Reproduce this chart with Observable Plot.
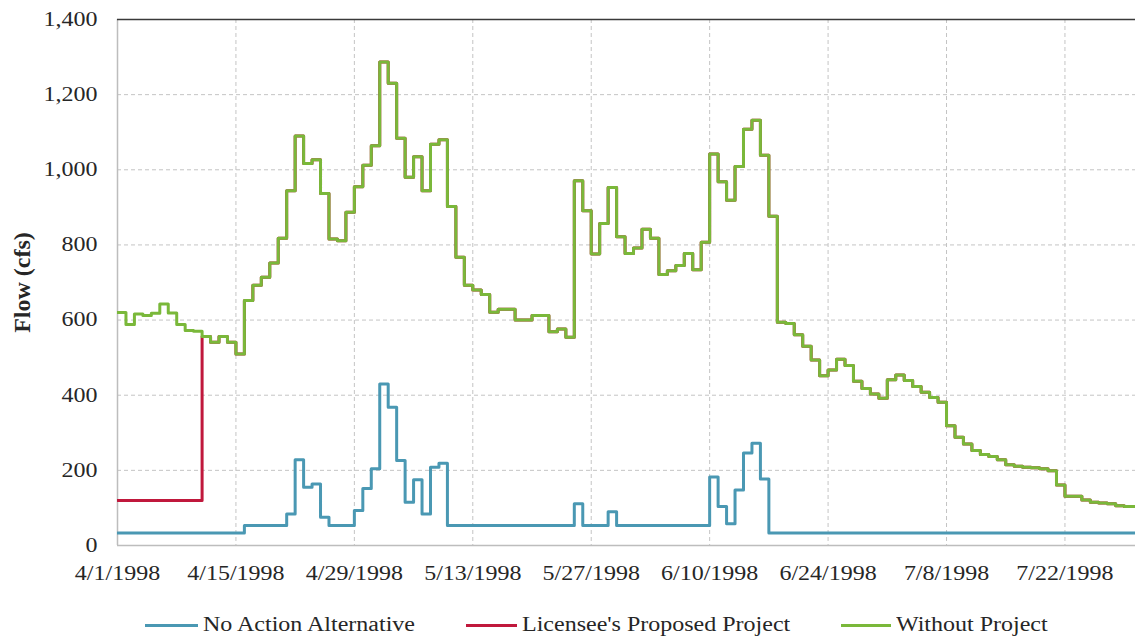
<!DOCTYPE html>
<html>
<head>
<meta charset="utf-8">
<script src="https://cdn.jsdelivr.net/npm/d3@7"></script>
<script src="https://cdn.jsdelivr.net/npm/@observablehq/plot@0.6"></script>
<style>
  html, body { margin: 0; padding: 0; background: #fff; }
  #wrap { position: relative; width: 1135px; height: 636px; overflow: hidden; font-family: "Liberation Serif", "Times New Roman", Times, "DejaVu Serif", serif; color: #262626; }
  .sw { position: absolute; height: 3px; top: 624px; }
  .lt { position: absolute; top: 612px; font-size: 20px; line-height: 24px; white-space: nowrap; transform: scaleX(1.2); transform-origin: left center; }
</style>
</head>
<body>
<div id="wrap"></div>
<script>
// ---- data (daily values starting 4/1/1998) ----
const startDate = "1998-04-01";
const seriesNames = ["No Action Alternative", "Licensee's Proposed Project", "Without Project"];
const seriesColors = ["#4a98b3", "#c0183c", "#7ab83a"];
const xTickLabels = ["4/1/1998", "4/15/1998", "4/29/1998", "5/13/1998", "5/27/1998", "6/10/1998", "6/24/1998", "7/8/1998", "7/22/1998"];
const yTicks = [0, 200, 400, 600, 800, 1000, 1200, 1400];

const noAction = [
  33, 33, 33, 33, 33, 33, 33, 33, 33, 33,
  33, 33, 33, 33, 33, 53, 53, 53, 53, 53,
  84, 228, 155, 164, 75, 53, 53, 53, 93, 152,
  204, 430, 368, 226, 115, 175, 84, 208, 219, 53,
  53, 53, 53, 53, 53, 53, 53, 53, 53, 53,
  53, 53, 53, 53, 111, 53, 53, 53, 90, 53,
  53, 53, 53, 53, 53, 53, 53, 53, 53, 53,
  182, 104, 58, 148, 246, 272, 177, 33, 33, 33,
  33, 33, 33, 33, 33, 33, 33, 33, 33, 33,
  33, 33, 33, 33, 33, 33, 33, 33, 33, 33,
  33, 33, 33, 33, 33, 33, 33, 33, 33, 33,
  33, 33, 33, 33, 33, 33, 33, 33, 33, 33,
  33, 33
];

const withoutProject = [
  620, 588, 616, 612, 618, 643, 619, 588, 572, 570,
  556, 541, 556, 541, 510, 652, 693, 714, 752, 818,
  944, 1090, 1017, 1027, 937, 816, 811, 887, 955, 1012,
  1064, 1287, 1230, 1084, 980, 1035, 944, 1068, 1080, 902,
  767, 693, 680, 668, 621, 629, 629, 600, 600, 612,
  612, 569, 576, 554, 971, 891, 776, 857, 953, 822,
  777, 792, 842, 818, 721, 731, 745, 777, 734, 807,
  1042, 968, 919, 1009, 1108, 1132, 1039, 876, 594, 591,
  561, 530, 494, 452, 467, 496, 479, 437, 418, 403,
  392, 441, 454, 439, 423, 408, 394, 381, 319, 288,
  270, 253, 242, 237, 228, 215, 211, 208, 207, 204,
  199, 161, 131, 131, 121, 115, 113, 111, 106, 104,
  104, 104
];

// Licensee's project: 120 cfs until 4/11, then identical to Without Project (hidden beneath it)
const licenseeEarly = [120, 120, 120, 120, 120, 120, 120, 120, 120, 120];
const licensee = licenseeEarly.concat(withoutProject.slice(licenseeEarly.length));

// ---- build table ----
const DAY = 864e5;
const t0 = Date.parse(startDate + "T00:00:00Z");
const rows = [];
[noAction, licensee, withoutProject].forEach((arr, s) => {
  arr.forEach((v, i) => rows.push({series: seriesNames[s], date: new Date(t0 + i * DAY), value: v}));
});
const parseMDY = s => { const [m, d, y] = s.split("/").map(Number); return new Date(Date.UTC(y, m - 1, d)); };
const tickDates = xTickLabels.map(parseMDY);
const fmt = d => `${d.getUTCMonth() + 1}/${d.getUTCDate()}/${d.getUTCFullYear()}`;
const xDomain = [new Date(t0), new Date(t0 + 120.34 * DAY)];
const FONT = '"Liberation Serif", "Times New Roman", Times, "DejaVu Serif", serif';

const chart = Plot.plot({
  width: 1135,
  height: 600,
  marginLeft: 117,
  marginRight: 0,
  marginTop: 19,
  marginBottom: 55,
  style: {fontFamily: FONT, fontSize: "20px", color: "#262626", background: "white", overflow: "hidden"},
  x: {type: "utc", domain: xDomain},
  y: {domain: [0, 1400]},
  marks: [
    Plot.gridX(tickDates.slice(1), {stroke: "#c4c4c4", strokeOpacity: 1, strokeDasharray: "4,3", strokeWidth: 1}),
    Plot.gridY(yTicks.slice(1, -1), {stroke: "#c4c4c4", strokeOpacity: 1, strokeDasharray: "4,3", strokeWidth: 1}),
    Plot.ruleX([xDomain[0]], {stroke: "#bdbdbd", strokeWidth: 1.5}),
    Plot.ruleY([0], {stroke: "#bdbdbd", strokeWidth: 1.5}),
    Plot.ruleY([1400], {stroke: "#3a3a3a", strokeWidth: 1.5}),
    Plot.axisX({ticks: tickDates, tickFormat: fmt, tickSize: 0, tickPadding: 20, fontSize: 20, label: null}),
    Plot.axisY({ticks: yTicks, tickFormat: d3.format(","), tickSize: 0, tickPadding: 20, fontSize: 20, label: null}),
    Plot.text(["Flow (cfs)"], {frameAnchor: "left", textAnchor: "middle", dx: -95, rotate: -90, fontSize: 24, fontWeight: "bold", fill: "#262626"}),
    ...seriesNames.map((name, s) =>
      Plot.line(rows.filter(r => r.series === name), {
        x: "date", y: "value", curve: "step-after",
        stroke: seriesColors[s], strokeWidth: 3, clip: true
      })
    )
  ]
});

const wrap = document.getElementById("wrap");
wrap.appendChild(chart);

// the reference glyphs are 1.2x wider than tall: stretch tick label text horizontally
chart.querySelectorAll("g[aria-label='x-axis tick label'] text, g[aria-label='y-axis tick label'] text").forEach(t => {
  const w = t.getComputedTextLength();
  t.setAttribute("textLength", (w * 1.2).toFixed(1));
  t.setAttribute("lengthAdjust", "spacingAndGlyphs");
});

// legend below the chart
const legendPos = [[145, 203], [466, 522], [841, 896]];
seriesNames.forEach((name, s) => {
  const sw = document.createElement("div");
  sw.className = "sw";
  sw.style.left = legendPos[s][0] + "px";
  sw.style.width = (legendPos[s][1] - legendPos[s][0] - 5) + "px";
  sw.style.background = seriesColors[s];
  wrap.appendChild(sw);
  const lt = document.createElement("div");
  lt.className = "lt";
  lt.style.left = legendPos[s][1] + "px";
  lt.textContent = name;
  wrap.appendChild(lt);
});
</script>
</body>
</html>
